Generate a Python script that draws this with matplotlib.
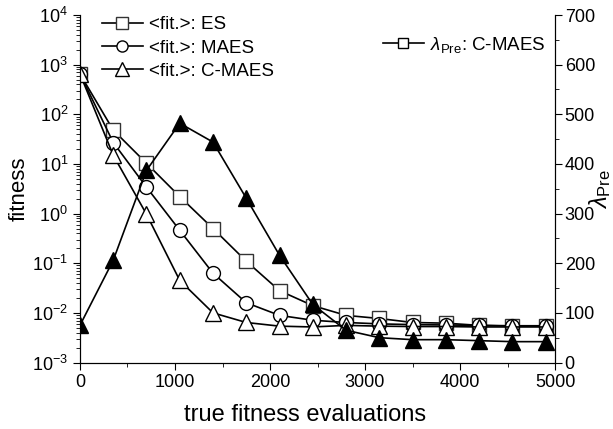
import matplotlib
matplotlib.use('Agg')
import matplotlib.pyplot as plt
from matplotlib.lines import Line2D

# evaluations at the marker positions
evals = [0, 350, 700, 1050, 1400, 1750, 2100, 2450, 2800, 3150, 3500, 3850, 4200, 4550, 4900]

# <fit.> curves (log axis)
fit_es = [650, 48, 10.3, 2.2, 0.5, 0.11, 0.028, 0.014, 0.0089, 0.0077, 0.0064, 0.0062, 0.0056, 0.0054, 0.0054]
fit_maes = [650, 27, 3.4, 0.46, 0.063, 0.016, 0.0089, 0.0071, 0.0064, 0.006, 0.0058, 0.0057, 0.0056, 0.0055, 0.0055]
fit_cmaes = [650, 15, 0.97, 0.045, 0.010, 0.0064, 0.0054, 0.0052, 0.0056, 0.0054, 0.0053, 0.0053, 0.0052, 0.0052, 0.0052]

# lambda_Pre of C-MAES (right axis)
lam_pre = [75, 206, 387, 482, 444, 331, 216, 117, 65, 50, 46, 46, 44, 42, 42]

plt.rcParams['font.family'] = ['Liberation Sans', 'DejaVu Sans']
plt.rcParams['mathtext.fontset'] = 'custom'
plt.rcParams['mathtext.rm'] = 'Liberation Sans'
plt.rcParams['mathtext.it'] = 'Liberation Sans:italic'

fig = plt.figure(figsize=(6.13, 4.29), dpi=100)
ax = fig.add_axes([0.1305, 0.155, 0.7749, 0.81])

ms = 10
ax.plot(evals, fit_es, '-', color='black', lw=1.2, marker='s', ms=ms, mfc='white', mec='#333333', label='<fit.>: ES')
ax.plot(evals, fit_maes, '-', color='black', lw=1.2, marker='o', ms=ms, mfc='white', mec='black', label='<fit.>: MAES')
ax.plot(evals, fit_cmaes, '-', color='black', lw=1.2, marker='^', ms=12, mfc='white', mec='black', label='<fit.>: C-MAES')

ax.set_yscale('log')
ax.set_ylim(1e-3, 1e4)
ax.set_xlim(0, 5000)
ax.set_xticks([0, 1000, 2000, 3000, 4000, 5000])
ax.set_xticks(range(500, 5000, 1000), minor=True)
ax.tick_params(axis='both', which='both', direction='out', labelsize=13)
ax.tick_params(axis='both', which='major', length=5)
ax.tick_params(axis='both', which='minor', length=3)
ax.spines['top'].set_visible(False)
ax.set_xlabel('true fitness evaluations', fontsize=17)
ax.xaxis.set_label_coords(0.474, -0.12)
ax.set_ylabel('fitness', fontsize=16, labelpad=2)

ax.legend(loc='upper left', bbox_to_anchor=(0.03, 1.018), frameon=False, fontsize=13.5,
          handlelength=2.2, handletextpad=0.3, labelspacing=0.32, borderaxespad=0, markerscale=0.8)

ax2 = ax.twinx()
ax2.plot(evals, lam_pre, '-', color='black', lw=1.2, marker='^', ms=12, mfc='black', mec='black')
ax2.set_ylim(0, 700)
ax2.set_yticks(range(0, 701, 100))
ax2.set_yticks(range(50, 700, 100), minor=True)
ax2.tick_params(axis='y', which='both', direction='out', labelsize=13, pad=2)
ax2.tick_params(axis='y', which='major', length=5)
ax2.tick_params(axis='y', which='minor', length=3)
ax2.spines['top'].set_visible(False)
ax2.set_ylabel(r'$\lambda_{\mathrm{Pre}}$', fontsize=17)
ax2.yaxis.set_label_coords(1.068, 0.5)

# legend entry for lambda uses a small open square, as in the original
h = Line2D([], [], color='black', lw=1.2, marker='s', ms=7, mfc='white', mec='black')
ax2.legend([h], [r'$\lambda_{\mathrm{Pre}}$: C-MAES'], loc='upper right', bbox_to_anchor=(0.995, 0.965),
           frameon=False, fontsize=13.5, handlelength=2.2, handletextpad=0.3, borderaxespad=0)

fig.savefig('out.png', dpi=100)
